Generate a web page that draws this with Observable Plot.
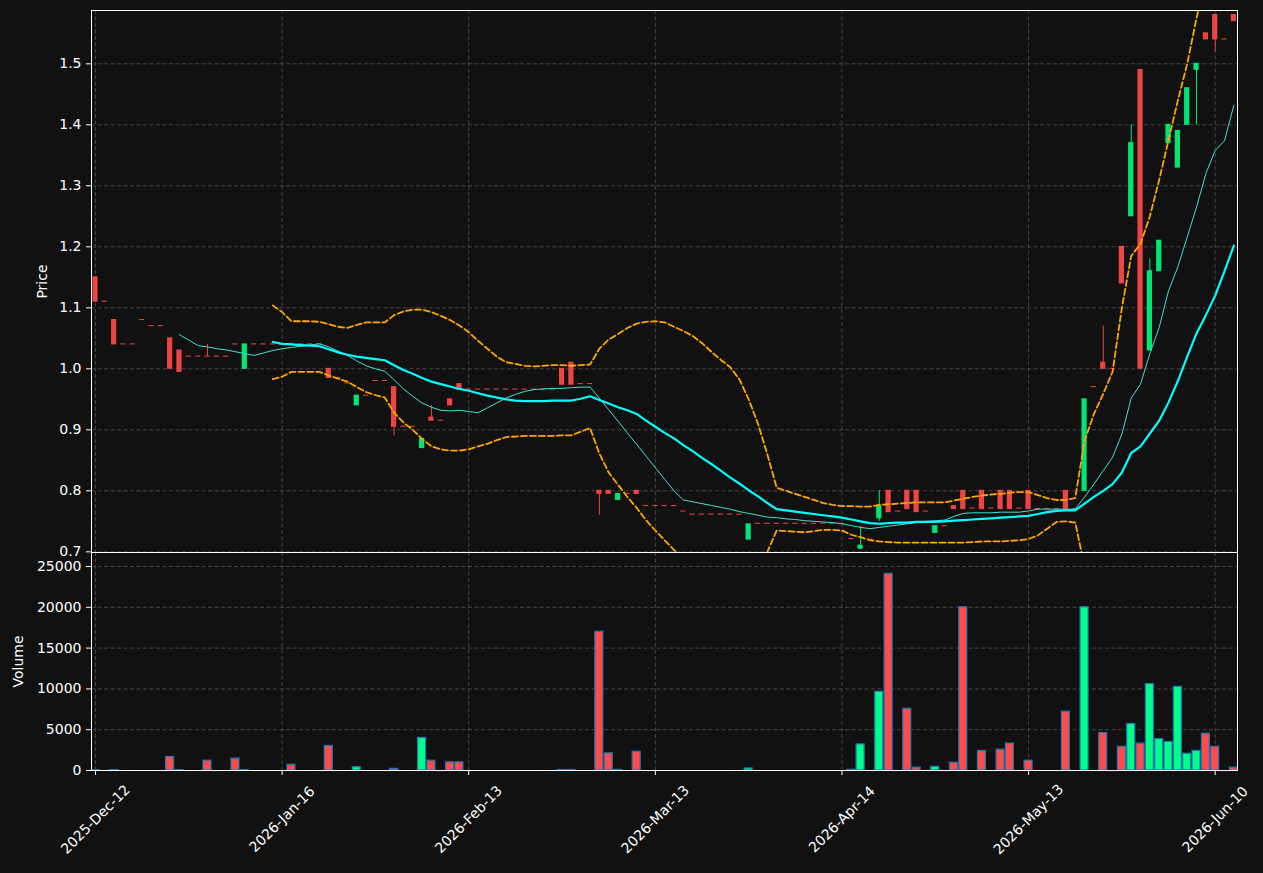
<!DOCTYPE html>
<html><head><meta charset="utf-8">
<script src="https://cdn.jsdelivr.net/npm/d3@7"></script>
<script src="https://cdn.jsdelivr.net/npm/@observablehq/plot@0.6"></script>
<style>
html,body{margin:0;padding:0;background:#111111;}
#wrap{position:relative;width:1263px;height:873px;background:#111111;overflow:hidden;}
#price{position:absolute;left:0;top:0;}
#vol{position:absolute;left:0;top:551px;}
</style></head><body>
<div id="wrap"><div id="price"></div><div id="vol"></div></div>
<script>
// ---- data ----
const tickIndex = [0, 20, 40, 60, 80, 100, 120];
const tickLabels = ["2025-Dec-12","2026-Jan-16","2026-Feb-13","2026-Mar-13","2026-Apr-14","2026-May-13","2026-Jun-10"];
const priceTicks = [0.7, 0.8, 0.9, 1.0, 1.1, 1.2, 1.3, 1.4, 1.5];
const volumeTicks = [0, 5000, 10000, 15000, 20000, 25000];

const open = [
 1.15,1.11,1.08,1.04,1.04,1.08,1.07,1.07,1.05,1.03,
 1.02,1.02,1.02,1.02,1.02,1.04,1.00,1.04,1.04,1.04,
 1.04,1.04,1.04,1.04,1.04,1.00,0.985,0.976,0.94,0.956,
 0.98,0.98,0.97,0.905,0.905,0.87,0.92,0.915,0.95,0.975,
 0.966,0.966,0.966,0.966,0.966,0.966,0.966,0.966,0.966,0.966,
 1.00,1.01,0.975,0.975,0.80,0.80,0.785,0.795,0.80,0.775,
 0.775,0.775,0.775,0.766,0.761,0.761,0.761,0.761,0.761,0.761,
 0.72,0.746,0.746,0.746,0.746,0.746,0.746,0.746,0.746,0.746,
 0.746,0.721,0.705,0.72,0.755,0.80,0.766,0.80,0.80,0.766,
 0.731,0.742,0.775,0.80,0.771,0.80,0.771,0.80,0.80,0.771,
 0.80,0.77,0.77,0.77,0.80,0.77,0.80,0.97,1.01,1.00,
 1.20,1.25,1.49,1.03,1.16,1.37,1.33,1.40,1.49,1.55,
 1.58,1.54,1.58];
const close = [
 1.11,1.11,1.04,1.04,1.04,1.08,1.07,1.07,1.00,0.995,
 1.02,1.02,1.02,1.02,1.02,1.04,1.04,1.04,1.04,1.04,
 1.04,1.04,1.04,1.04,1.04,0.985,0.985,0.976,0.956,0.956,
 0.98,0.98,0.905,0.905,0.905,0.885,0.915,0.915,0.94,0.966,
 0.966,0.966,0.966,0.966,0.966,0.966,0.966,0.966,0.966,0.966,
 0.974,0.974,0.975,0.975,0.795,0.795,0.795,0.795,0.795,0.775,
 0.775,0.775,0.775,0.766,0.761,0.761,0.761,0.761,0.761,0.761,
 0.745,0.746,0.746,0.746,0.746,0.746,0.746,0.746,0.746,0.746,
 0.746,0.721,0.71,0.72,0.775,0.765,0.766,0.77,0.765,0.766,
 0.742,0.742,0.77,0.77,0.771,0.77,0.771,0.77,0.77,0.771,
 0.77,0.77,0.77,0.77,0.77,0.77,0.95,0.97,1.00,1.00,
 1.14,1.37,1.00,1.16,1.21,1.40,1.39,1.46,1.50,1.54,
 1.54,1.54,1.57];
const high = [
 1.15,1.11,1.08,1.04,1.04,1.08,1.07,1.07,1.05,1.03,
 1.02,1.02,1.04,1.02,1.02,1.04,1.04,1.04,1.04,1.04,
 1.04,1.04,1.04,1.04,1.04,1.00,0.985,0.976,0.956,0.956,
 0.98,0.98,0.97,0.905,0.905,0.885,0.94,0.915,0.95,0.975,
 0.966,0.966,0.966,0.966,0.966,0.966,0.966,0.966,0.966,0.966,
 1.00,1.01,0.975,0.975,0.80,0.80,0.795,0.795,0.80,0.775,
 0.775,0.775,0.775,0.766,0.761,0.761,0.761,0.761,0.761,0.761,
 0.745,0.746,0.746,0.746,0.746,0.746,0.746,0.746,0.746,0.746,
 0.746,0.721,0.742,0.72,0.80,0.80,0.766,0.80,0.80,0.766,
 0.742,0.742,0.775,0.80,0.771,0.80,0.771,0.80,0.80,0.771,
 0.80,0.77,0.77,0.77,0.80,0.77,0.95,0.97,1.07,1.00,
 1.20,1.40,1.49,1.18,1.21,1.40,1.39,1.46,1.50,1.55,
 1.58,1.54,1.58];
const low = [
 1.11,1.11,1.04,1.04,1.04,1.08,1.07,1.07,1.00,0.995,
 1.02,1.02,1.02,1.02,1.02,1.04,1.00,1.04,1.04,1.04,
 1.04,1.04,1.04,1.04,1.04,0.985,0.985,0.976,0.94,0.956,
 0.98,0.98,0.89,0.905,0.905,0.87,0.915,0.915,0.94,0.966,
 0.966,0.966,0.966,0.966,0.966,0.966,0.966,0.966,0.966,0.966,
 0.974,0.974,0.975,0.975,0.76,0.795,0.785,0.795,0.795,0.775,
 0.775,0.775,0.775,0.766,0.761,0.761,0.761,0.761,0.761,0.761,
 0.72,0.746,0.746,0.746,0.746,0.746,0.746,0.746,0.746,0.746,
 0.746,0.721,0.705,0.72,0.75,0.765,0.766,0.77,0.765,0.766,
 0.731,0.742,0.77,0.77,0.771,0.77,0.771,0.77,0.77,0.771,
 0.77,0.77,0.77,0.77,0.77,0.77,0.80,0.97,1.00,1.00,
 1.14,1.25,1.00,1.03,1.16,1.37,1.33,1.40,1.40,1.54,
 1.52,1.54,1.57];
const volume = [
 50,0,50,0,0,0,0,0,1650,50,
 0,0,1200,0,0,1450,50,0,0,0,
 0,700,0,0,0,3000,0,0,400,0,
 0,0,200,0,0,4000,1200,0,1000,1000,
 0,0,0,0,0,0,0,0,0,0,
 60,60,0,0,17000,2100,60,0,2300,0,
 0,0,0,0,0,0,0,0,0,0,
 250,0,0,0,0,0,0,0,0,0,
 0,80,3200,0,9650,24100,0,7570,350,0,
 450,0,950,20000,0,2400,0,2550,3300,0,
 1200,0,0,0,7200,0,20000,0,4600,0,
 2900,5700,3300,10600,3850,3500,10250,2050,2400,4500,
 2900,0,350];
const ma10 = [
 null,null,null,null,null,null,null,null,null,1.056,
 1.047,1.038,1.036,1.033,1.031,1.028,1.025,1.022,1.026,1.030,
 1.033,1.035,1.037,1.039,1.041,1.036,1.029,1.022,1.013,1.005,
 1.000,0.996,0.982,0.967,0.955,0.944,0.937,0.932,0.931,0.932,
 0.930,0.928,0.936,0.944,0.952,0.958,0.963,0.966,0.967,0.968,
 0.968,0.969,0.970,0.970,0.952,0.933,0.914,0.895,0.876,0.857,
 0.838,0.819,0.800,0.785,0.782,0.779,0.776,0.773,0.770,0.766,
 0.763,0.760,0.757,0.756,0.754,0.753,0.751,0.750,0.749,0.748,
 0.746,0.743,0.740,0.738,0.740,0.742,0.744,0.746,0.748,0.750,
 0.751,0.752,0.758,0.763,0.764,0.764,0.764,0.765,0.765,0.765,
 0.767,0.770,0.770,0.770,0.770,0.770,0.790,0.811,0.833,0.855,
 0.893,0.952,0.975,1.025,1.068,1.128,1.167,1.216,1.265,1.320,
 1.358,1.374,1.432];
const ma20 = [
 null,null,null,null,null,null,null,null,null,null,
 null,null,null,null,null,null,null,null,null,1.044,
 1.041,1.040,1.039,1.038,1.037,1.032,1.027,1.023,1.020,1.018,
 1.016,1.014,1.006,0.998,0.992,0.985,0.979,0.975,0.971,0.967,
 0.964,0.960,0.956,0.953,0.950,0.948,0.947,0.947,0.947,0.948,
 0.948,0.948,0.951,0.955,0.949,0.943,0.937,0.932,0.926,0.915,
 0.905,0.895,0.886,0.875,0.865,0.854,0.844,0.833,0.822,0.812,
 0.801,0.791,0.780,0.770,0.768,0.766,0.764,0.762,0.760,0.758,
 0.756,0.753,0.750,0.747,0.746,0.747,0.748,0.748,0.749,0.749,
 0.749,0.750,0.751,0.752,0.753,0.754,0.755,0.756,0.757,0.758,
 0.759,0.762,0.765,0.767,0.768,0.768,0.779,0.790,0.800,0.811,
 0.830,0.862,0.873,0.894,0.915,0.945,0.980,1.020,1.058,1.088,
 1.120,1.160,1.202];
const bbUpper = [
 null,null,null,null,null,null,null,null,null,null,
 null,null,null,null,null,null,null,null,null,1.104,
 1.093,1.078,1.078,1.078,1.077,1.073,1.069,1.067,1.072,1.076,
 1.076,1.076,1.088,1.094,1.097,1.097,1.093,1.087,1.080,1.071,
 1.060,1.046,1.033,1.020,1.011,1.008,1.005,1.004,1.005,1.006,
 1.006,1.005,1.006,1.007,1.033,1.048,1.057,1.067,1.074,1.077,
 1.078,1.076,1.069,1.062,1.054,1.042,1.028,1.015,1.003,0.983,
 0.950,0.910,0.860,0.805,0.800,0.795,0.790,0.785,0.780,0.777,
 0.775,0.775,0.774,0.774,0.777,0.778,0.779,0.780,0.781,0.781,
 0.781,0.781,0.784,0.787,0.790,0.792,0.794,0.795,0.797,0.798,
 0.798,0.793,0.788,0.785,0.785,0.788,0.882,0.926,0.959,0.995,
 1.100,1.185,1.205,1.250,1.310,1.375,1.440,1.500,1.575,1.640,
 1.690,1.730,1.780];
const bbLower = [
 null,null,null,null,null,null,null,null,null,null,
 null,null,null,null,null,null,null,null,null,0.983,
 0.987,0.995,0.995,0.995,0.995,0.989,0.984,0.979,0.970,0.962,
 0.957,0.953,0.928,0.912,0.900,0.885,0.873,0.868,0.866,0.866,
 0.868,0.873,0.877,0.883,0.888,0.889,0.890,0.890,0.890,0.890,
 0.891,0.891,0.897,0.903,0.861,0.830,0.810,0.790,0.772,0.752,
 0.735,0.719,0.703,0.690,0.678,0.668,0.660,0.652,0.645,0.642,
 0.650,0.670,0.700,0.735,0.734,0.733,0.732,0.734,0.736,0.736,
 0.735,0.728,0.724,0.719,0.717,0.716,0.715,0.715,0.715,0.715,
 0.715,0.715,0.715,0.715,0.716,0.717,0.717,0.717,0.718,0.719,
 0.721,0.727,0.738,0.749,0.750,0.748,0.676,0.655,0.640,0.630,
 0.560,0.540,0.540,0.540,0.520,0.515,0.520,0.540,0.540,0.540,
 0.550,0.590,0.620];

// ---- styles ----
const BG = "#111111";
const UP = "#00E676", DOWN = "#EF4444";
const VUP = "#00FF88", VDOWN = "#FF4B4B";
const GRID = "#454545";
const W = 1263;
const xDomain = [-0.429, 122.39];
const font = "'DejaVu Sans', sans-serif";

const idx = d3.range(open.length);
const candles = idx.map(i => ({i, o: open[i], c: close[i], h: high[i], l: low[i], v: volume[i], up: close[i] > open[i]}));
const series = (arr) => idx.map(i => ({i, y: arr[i]}));

const pricePlot = Plot.plot({
  width: W, height: 565, marginTop: 10, marginBottom: 13, marginLeft: 91, marginRight: 26,
  style: {background: BG, color: "white", fontFamily: font, fontSize: "14px", overflow: "visible"},
  x: {domain: xDomain, axis: null},
  y: {domain: [0.6989, 1.5874], axis: null},
  color: {type: "identity"},
  marks: [
    Plot.gridX(tickIndex, {stroke: GRID, strokeOpacity: 1, strokeDasharray: "4,2.5"}),
    Plot.gridY(priceTicks, {stroke: GRID, strokeOpacity: 1, strokeDasharray: "4,2.5"}),
    Plot.ruleX(candles.filter(d => d.h > d.l), {x: "i", y1: "l", y2: "h", stroke: d => d.up ? UP : DOWN, strokeWidth: 1}),
    Plot.rect(candles, {x1: d => d.i - 0.28, x2: d => d.i + 0.28, y1: d => Math.min(d.o, d.c), y2: d => Math.max(d.o, d.c),
      fill: d => d.up ? UP : DOWN, insetTop: -0.5, insetBottom: -0.5}),
    Plot.line(series(ma10), {x: "i", y: "y", stroke: "#40E0D0", strokeWidth: 1, clip: true}),
    Plot.line(series(ma20), {x: "i", y: "y", stroke: "#00FFFF", strokeWidth: 2.2, clip: true}),
    Plot.line(series(bbUpper), {x: "i", y: "y", stroke: "#FFA500", strokeWidth: 1.8, strokeDasharray: "6,3", clip: true}),
    Plot.line(series(bbLower), {x: "i", y: "y", stroke: "#FFA500", strokeWidth: 1.8, strokeDasharray: "6,3", clip: true}),
    Plot.frame({stroke: "white", strokeWidth: 1}),
    Plot.axisY({ticks: priceTicks, tickFormat: d3.format(".1f"), tickSize: 5, tickPadding: 5, label: null, fontSize: 14}),
    Plot.text(["Price"], {frameAnchor: "left", dx: -49, rotate: -90, text: d => d, fill: "white", fontSize: 14, textAnchor: "middle"})
  ]
});
document.getElementById("price").appendChild(pricePlot);

const volPlot = Plot.plot({
  width: W, height: 322, marginTop: 1, marginBottom: 103, marginLeft: 91, marginRight: 26,
  style: {background: "transparent", color: "white", fontFamily: font, fontSize: "14px"},
  x: {domain: xDomain, axis: null},
  y: {domain: [0, 26716], axis: null},
  color: {type: "identity"},
  marks: [
    Plot.gridX(tickIndex, {stroke: GRID, strokeOpacity: 1, strokeDasharray: "4,2.5"}),
    Plot.gridY(volumeTicks, {stroke: GRID, strokeOpacity: 1, strokeDasharray: "4,2.5"}),
    Plot.rect(candles.filter(d => d.v > 0), {x1: d => d.i - 0.43, x2: d => d.i + 0.43, y1: 0, y2: "v",
      fill: d => d.up ? VUP : VDOWN, stroke: "#1f77b4", strokeWidth: 1.2}),
    Plot.frame({stroke: "white", strokeWidth: 1}),
    Plot.axisY({ticks: volumeTicks, tickFormat: d3.format("d"), tickSize: 5, tickPadding: 5, label: null, fontSize: 14}),
    Plot.axisX({ticks: tickIndex, tickFormat: () => "", tickSize: 5, label: null}),
    Plot.text(tickIndex, {x: d => d, text: (d, i) => tickLabels[i], frameAnchor: "bottom", dy: 49, rotate: -45,
      textAnchor: "middle", lineAnchor: "middle", fill: "white", fontSize: 14}),
    Plot.text(["Volume"], {frameAnchor: "left", dx: -73, rotate: -90, text: d => d, fill: "white", fontSize: 14, textAnchor: "middle"})
  ]
});
document.getElementById("vol").appendChild(volPlot);
</script>
</body></html>
